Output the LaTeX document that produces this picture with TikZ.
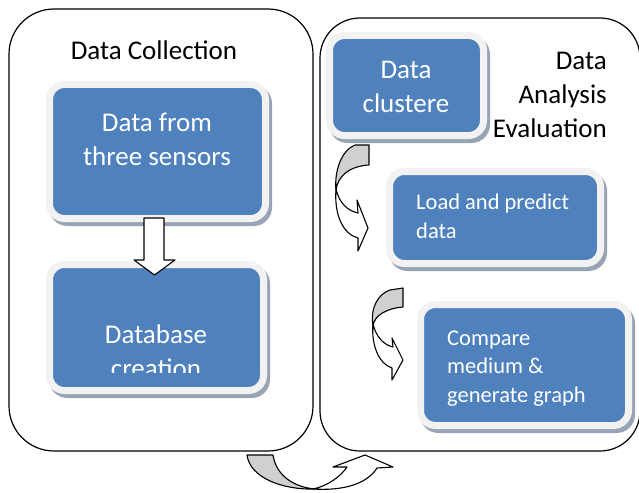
\documentclass[tikz,border=0pt]{standalone}
\usepackage{fontspec}
\setmainfont{Carlito}
\usetikzlibrary{shadows}
\definecolor{boxblue}{HTML}{4F81BD}
\definecolor{boxrim}{HTML}{F2F2F2}
\definecolor{boxshadow}{HTML}{98A4B5}
\definecolor{arrowgray}{HTML}{D0D0D0}
\begin{document}
\begin{tikzpicture}[x=1pt,y=-1pt,
  container/.style={draw=black, line width=1.2pt, fill=white, inner sep=0pt},
  bluebox/.style={draw=boxrim, line width=7pt, fill=boxblue, rounded corners=15pt, inner sep=0pt,
    drop shadow={shadow xshift=3pt, shadow yshift=-4pt, draw=boxshadow, fill=boxshadow, line width=7pt, opacity=1}},
  bigtext/.style={font=\fontsize{27}{34}\selectfont, inner sep=0pt},
  smalltext/.style={font=\fontsize{22.5}{28.5}\selectfont, inner sep=0pt, text=white, align=left},
  blockarrow/.style={draw=black, line width=1.1pt, fill=white, line join=round},
  backarrow/.style={draw=black, line width=1.1pt, fill=arrowgray, line join=round}
]
\useasboundingbox (0,0) rectangle (639,492);

% containers
\node[container, rounded corners=45pt, minimum width=304pt, minimum height=442pt] (leftpanel) at (161,230) {};
\node[container, rounded corners=40pt, minimum width=320pt, minimum height=433pt] (rightpanel) at (480,234.5) {};

% blue boxes
\node[bluebox, minimum width=216pt, minimum height=134pt] (sensors) at (157.5,151.5) {};
\node[bluebox, minimum width=214pt, minimum height=126pt] (database) at (156.5,327.5) {};
\node[bluebox, minimum width=154pt, minimum height=100pt] (cluster) at (406.5,85.5) {};
\node[bluebox, minimum width=211pt, minimum height=92pt] (predict) at (495,217.5) {};
\node[bluebox, minimum width=208pt, minimum height=121pt] (compare) at (524.5,365) {};

% texts
\node[bigtext, anchor=base] (titleleft) at (154,60) {Data Collection};
\node[bigtext, anchor=base east, align=right] (titleright) at (607,137) {Data\\Analysis\\Evaluation};
\node[bigtext, anchor=base, align=center, text=white] (sensorstext) at (157,165) {Data from\\three sensors};
\begin{scope}
  \clip (40,250) rectangle (280,372);
  \node[bigtext, anchor=base, align=center, text=white] (databasetext) at (156,377) {Database\\creation};
\end{scope}
\node[bigtext, anchor=base, align=center, text=white] (clustertext) at (406,113) {Data\\clustere};
\node[smalltext, anchor=base west] (predicttext) at (416,238) {Load and predict\\data};
\node[smalltext, anchor=base west] (comparetext) at (447,402) {Compare\\medium \&\\generate graph};

% down block arrow
\draw[blockarrow] (144,218) -- (164,218) -- (164,260) -- (175,260) -- (154.5,275) -- (134,260) -- (144,260) -- cycle;

% curved arrow 1
\draw[backarrow] (355,145) -- (369,145) -- (369,165) .. controls (350,166) and (337,176) .. (336,191) .. controls (334,170) and (342,150) .. cycle;
\draw[blockarrow] (336,189) .. controls (339,203) and (348,211) .. (358,213) -- (357,200) -- (368,228) -- (358,251) -- (358,238) .. controls (343,234) and (334,215) .. cycle;

% curved arrow 2
\draw[backarrow] (390,290) -- (403,288) -- (403,307) .. controls (388,308) and (374,315) .. (373,326) .. controls (370,308) and (378,294) .. cycle;
\draw[blockarrow] (373,324) .. controls (376,337) and (384,345) .. (393,347) -- (392,338) -- (403,360) -- (392,380) -- (392,368) .. controls (379,364) and (371,345) .. cycle;

% bottom curved arrow
\draw[backarrow] (247,455) -- (273,455) .. controls (276,475) and (293,487) .. (315,489) .. controls (283,490) and (250,478) .. cycle;
\draw[blockarrow] (313,489) .. controls (328,486) and (341,476) .. (347,467) -- (333,467) -- (365,455) -- (393,467) -- (377,468) .. controls (367,484) and (343,491) .. cycle;
\end{tikzpicture}
\end{document}
